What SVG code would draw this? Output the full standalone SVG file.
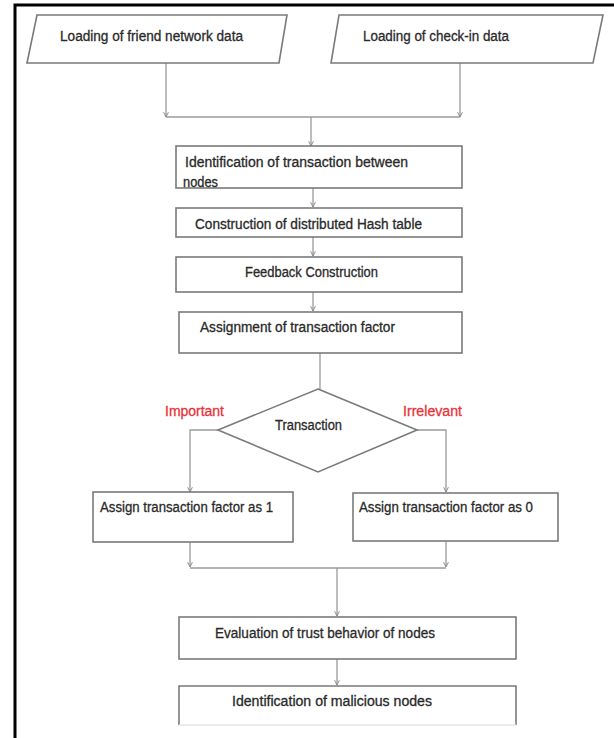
<svg xmlns="http://www.w3.org/2000/svg" width="614" height="738" viewBox="0 0 614 738">
<style>
.box{fill:#fff;stroke:#7a7a7a;stroke-width:1.6}
.c{fill:none;stroke:#9a9a9a;stroke-width:1.3}
.t{font-family:"Liberation Sans",Arial,sans-serif;font-size:14px;fill:#2a2a2a;stroke:#2a2a2a;stroke-width:0.3}
.r{font-family:"Liberation Sans",Arial,sans-serif;font-size:14px;fill:#e8333a;stroke:#e8333a;stroke-width:0.3}
</style>
<defs>
<marker id="a" viewBox="0 0 10 10" refX="9" refY="5" markerWidth="6" markerHeight="6" orient="auto" markerUnits="userSpaceOnUse">
<path d="M1,1 L9,5 L1,9" fill="none" stroke="#888" stroke-width="1.6"/>
</marker>
</defs>
<rect width="614" height="738" fill="#fff"/>
<path d="M15,738 V5 H614" fill="none" stroke="#000" stroke-width="3"/>
<g id="connectors">
<path class="c" d="M166,63 V117" marker-end="url(#a)"/>
<path class="c" d="M460,63 V117" marker-end="url(#a)"/>
<path class="c" d="M166,117 H460"/>
<path class="c" d="M311,117 V146" marker-end="url(#a)"/>
<path class="c" d="M313,188 V207" marker-end="url(#a)"/>
<path class="c" d="M313,237 V256" marker-end="url(#a)"/>
<path class="c" d="M313,292 V311" marker-end="url(#a)"/>
<path class="c" d="M320,353 V389"/>
<path class="c" d="M218,430 H190 V492" marker-end="url(#a)"/>
<path class="c" d="M417,430 H446 V492" marker-end="url(#a)"/>
<path class="c" d="M190,542 V567" marker-end="url(#a)"/>
<path class="c" d="M446,541 V567" marker-end="url(#a)"/>
<path class="c" d="M190,568 H446"/>
<path class="c" d="M337,568 V616" marker-end="url(#a)"/>
<path class="c" d="M337,659 V685" marker-end="url(#a)"/>
</g>
<g id="n1">
<polygon class="box" points="37,15 287,15 279,63 27,63"/>
<text class="t" x="60" y="41" textLength="183" lengthAdjust="spacingAndGlyphs">Loading of friend network data</text>
</g>
<g id="n2">
<polygon class="box" points="339,15 603,15 593,63 331,63"/>
<text class="t" x="363" y="41" textLength="146" lengthAdjust="spacingAndGlyphs">Loading of check-in data</text>
</g>
<g id="n3">
<rect class="box" x="176" y="146" width="286" height="42"/>
<text class="t" x="185" y="167" textLength="223" lengthAdjust="spacingAndGlyphs">Identification of transaction between</text>
<text class="t" x="183" y="187" textLength="35" lengthAdjust="spacingAndGlyphs">nodes</text>
</g>
<g id="n4">
<rect class="box" x="176" y="208" width="286" height="29"/>
<text class="t" x="195" y="229" textLength="227" lengthAdjust="spacingAndGlyphs">Construction of distributed Hash table</text>
</g>
<g id="n5">
<rect class="box" x="176" y="257" width="286" height="35"/>
<text class="t" x="245" y="277" textLength="133" lengthAdjust="spacingAndGlyphs">Feedback Construction</text>
</g>
<g id="n6">
<rect class="box" x="179" y="312" width="283" height="41"/>
<text class="t" x="200" y="332" textLength="195" lengthAdjust="spacingAndGlyphs">Assignment of transaction factor</text>
</g>
<g id="n7">
<polygon class="box" points="318,389 417,430 318,472 218,430"/>
<text class="t" x="275" y="430" textLength="67" lengthAdjust="spacingAndGlyphs">Transaction</text>
</g>
<text class="r" x="165" y="416" textLength="59" lengthAdjust="spacingAndGlyphs">Important</text>
<text class="r" x="403" y="416" textLength="59" lengthAdjust="spacingAndGlyphs">Irrelevant</text>
<g id="n8">
<rect class="box" x="93" y="492" width="200" height="50"/>
<text class="t" x="100" y="512" textLength="173" lengthAdjust="spacingAndGlyphs">Assign transaction factor as 1</text>
</g>
<g id="n9">
<rect class="box" x="353" y="493" width="205" height="48"/>
<text class="t" x="359" y="512" textLength="174" lengthAdjust="spacingAndGlyphs">Assign transaction factor as 0</text>
</g>
<g id="n10">
<rect class="box" x="179" y="617" width="337" height="42"/>
<text class="t" x="215" y="638" textLength="220" lengthAdjust="spacingAndGlyphs">Evaluation of trust behavior of nodes</text>
</g>
<g id="n11">
<path class="box" d="M179,725 V686 H516 V725"/>
<path d="M179,725 H516" stroke="#e4e4e4" stroke-width="1.5"/>
<text class="t" x="232" y="706" textLength="200" lengthAdjust="spacingAndGlyphs">Identification  of  malicious nodes</text>
</g>
</svg>
